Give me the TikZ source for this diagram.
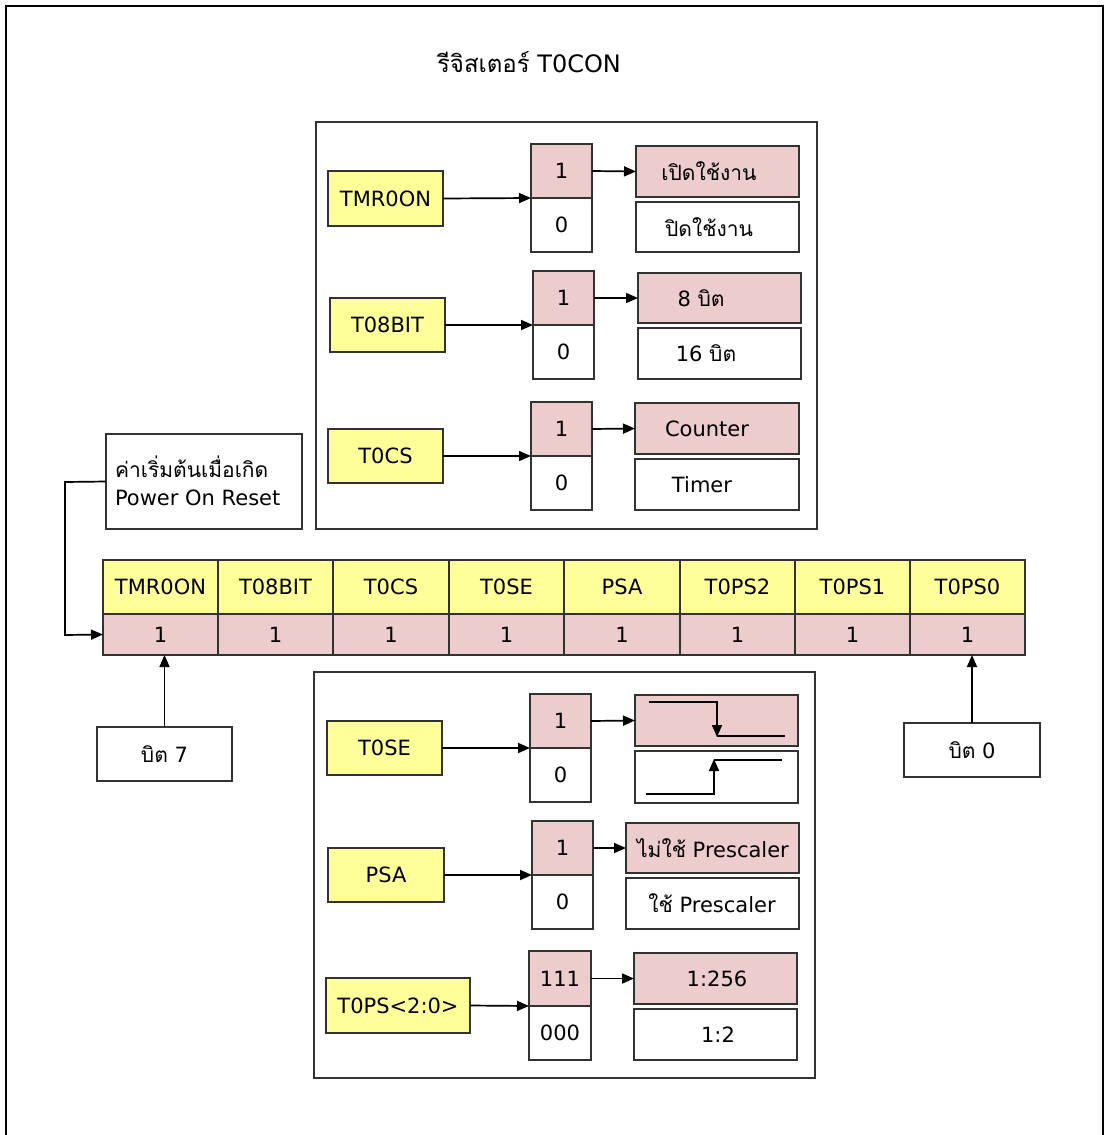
\documentclass[tikz,border=0pt]{standalone}
\usepackage{fontspec}
\setmainfont{DejaVu Sans}
\newfontfamily\thf[Script=Thai]{Loma}
\usetikzlibrary{arrows.meta,calc}
\definecolor{ylw}{RGB}{255,255,153}
\definecolor{pnk}{RGB}{236,204,204}
\definecolor{bd}{RGB}{50,50,50}
\begin{document}
\begin{tikzpicture}[x=1pt,y=-1pt,
  every node/.style={font=\fontsize{21}{25}\selectfont, inner sep=0pt, outer sep=0pt},
  box/.style={draw=bd, line width=1.4pt, rectangle, anchor=center},
  ybox/.style={box, fill=ylw},
  pbox/.style={box, fill=pnk},
  wbox/.style={box, fill=white},
  txt/.style={draw=none, fill=none},
  arr/.style={line width=1.7pt, -{Triangle[length=12pt,width=10pt]}},
  ln/.style={line width=1.7pt},
  panel/.style={draw=bd, line width=1.4pt}
]
\useasboundingbox (0,0) rectangle (1105,1135);
% outer frame
\draw[line width=1.6pt] (6,1200) -- (6,6) -- (1103,6) -- (1103,1200);
\node[txt, font=\fontsize{24}{28}\selectfont] (title) at (529,62) {{\thf รีจิสเตอร์} T0CON};

% panels
\draw[panel] (316,122) rectangle (817,529);
\draw[panel] (314,672) rectangle (815,1078);

% ---------- Row 1 TMR0ON
\node[ybox, minimum width=115, minimum height=55] (y1) at (385.5,198.5) {TMR0ON};
\node[pbox, minimum width=61, minimum height=54] (b1a) at (561.5,171) {1};
\node[wbox, minimum width=61, minimum height=54] (b1b) at (561.5,225) {0};
\node[pbox, minimum width=163, minimum height=51] (o1a) at (717.5,171.5) {};
\node[wbox, minimum width=163, minimum height=50] (o1b) at (717.5,227) {};
\node[txt, font=\thf\fontsize{21}{25}\selectfont] at (709,171.5) {เปิดใช้งาน};
\node[txt, font=\thf\fontsize{21}{25}\selectfont] at (709,227) {ปิดใช้งาน};
\draw[arr] (y1.east) -- (b1a.south west);
\draw[arr] (b1a.east) -- (o1a.west);

% ---------- Row 2 T08BIT
\node[ybox, minimum width=115, minimum height=54] (y2) at (387.5,325) {T08BIT};
\node[pbox, minimum width=61, minimum height=54] (b2a) at (563.5,298) {1};
\node[wbox, minimum width=61, minimum height=54] (b2b) at (563.5,352) {0};
\node[pbox, minimum width=163, minimum height=50] (o2a) at (719.5,298) {};
\node[wbox, minimum width=163, minimum height=51] (o2b) at (719.5,353.5) {};
\node[txt] at (701,298) {8 {\thf บิต}};
\node[txt] at (706,353.5) {16 {\thf บิต}};
\draw[arr] (y2.east) -- (b2a.south west);
\draw[arr] (b2a.east) -- (o2a.west);

% ---------- Row 3 T0CS
\node[ybox, minimum width=115, minimum height=54] (y3) at (385.5,456) {T0CS};
\node[pbox, minimum width=61, minimum height=54] (b3a) at (561.5,429) {1};
\node[wbox, minimum width=61, minimum height=54] (b3b) at (561.5,483) {0};
\node[pbox, minimum width=164, minimum height=51] (o3a) at (717,428.5) {};
\node[wbox, minimum width=164, minimum height=51] (o3b) at (717,484.5) {};
\node[txt] at (707,429) {Counter};
\node[txt] at (702,485) {Timer};
\draw[arr] (y3.east) -- (b3a.south west);
\draw[arr] (b3a.east) -- (o3a.west);

% ---------- Register
\foreach \n/\xa/\xb/\lab in {1/103/218/TMR0ON,2/218/333/T08BIT,3/333/449/T0CS,4/449/564/T0SE,5/564/680/PSA,6/680/795/T0PS2,7/795/910/T0PS1,8/910/1025/T0PS0}{
  \node[ybox, minimum width={\xb-\xa}, minimum height=54] (r\n) at ({(\xa+\xb)/2},587) {\lab};
  \node[pbox, minimum width={\xb-\xa}, minimum height=41] (v\n) at ({(\xa+\xb)/2},634.5) {1};
}

% Power on reset
\node[box, fill=white, minimum width=196, minimum height=95] (por) at (204,481.5) {};
\node[txt, anchor=west, align=left] at (115,481) {{\thf ค่าเริ่มต้นเมื่อเกิด}\\[3pt]Power On Reset};
\coordinate (c1) at (65,482);
\coordinate (c2) at (65,635);
\draw[arr] (por.west) -- (c1) -- (c2) -- (v1.west);

% bit 7 / bit 0
\node[wbox, minimum width=135, minimum height=54] (bit7) at (164.5,754) {{\thf บิต} 7};
\node[wbox, minimum width=136, minimum height=54] (bit0) at (972,750) {{\thf บิต} 0};
\draw[arr] (bit7.north) -- (bit7.north |- v1.south);
\draw[arr] (bit0.north) -- (bit0.north |- v8.south);

% ---------- Row 4 T0SE
\node[ybox, minimum width=115, minimum height=54] (y4) at (384.5,748) {T0SE};
\node[pbox, minimum width=61, minimum height=54] (b4a) at (560.5,721) {1};
\node[wbox, minimum width=61, minimum height=54] (b4b) at (560.5,775) {0};
\node[pbox, minimum width=163, minimum height=51] (o4a) at (716.5,720.5) {};
\node[wbox, minimum width=163, minimum height=52] (o4b) at (716.5,777) {};
\draw[arr] (y4.east) -- (b4a.south west);
\draw[arr] (b4a.east) -- (o4a.west);
\draw[arr] (649,702) -- (717,702) -- (717,737);
\draw[ln] (717,736) -- (785,736);
\draw[arr] (646,794) -- (714,794) -- (714,759);
\draw[ln] (714,760) -- (782,760);

% ---------- Row 5 PSA
\node[ybox, minimum width=116, minimum height=54] (y5) at (386,875) {PSA};
\node[pbox, minimum width=61, minimum height=54] (b5a) at (562.5,848) {1};
\node[wbox, minimum width=61, minimum height=54] (b5b) at (562.5,902) {0};
\node[pbox, minimum width=173, minimum height=50] (o5a) at (712.5,848) {};
\node[wbox, minimum width=173, minimum height=51] (o5b) at (712.5,903.5) {};
\node[txt] at (713,848) {{\thf ไม่ใช้} Prescaler};
\node[txt] at (712,903) {{\thf ใช้} Prescaler};
\draw[arr] (y5.east) -- (b5a.south west);
\draw[arr] (b5a.east) -- (o5a.west);

% ---------- Row 6 T0PS<2:0>
\node[ybox, minimum width=144, minimum height=55] (y6) at (398,1005.5) {T0PS<2:0>};
\node[pbox, minimum width=62, minimum height=55] (b6a) at (560,978.5) {111};
\node[wbox, minimum width=62, minimum height=54] (b6b) at (560,1033) {000};
\node[pbox, minimum width=163, minimum height=51] (o6a) at (715.5,978.5) {};
\node[wbox, minimum width=163, minimum height=51] (o6b) at (715.5,1034.5) {};
\node[txt] at (717,979) {1:256};
\node[txt] at (718,1035) {1:2};
\draw[arr] (y6.east) -- (b6a.south west);
\draw[arr] (b6a.east) -- (o6a.west);
\end{tikzpicture}
\end{document}
